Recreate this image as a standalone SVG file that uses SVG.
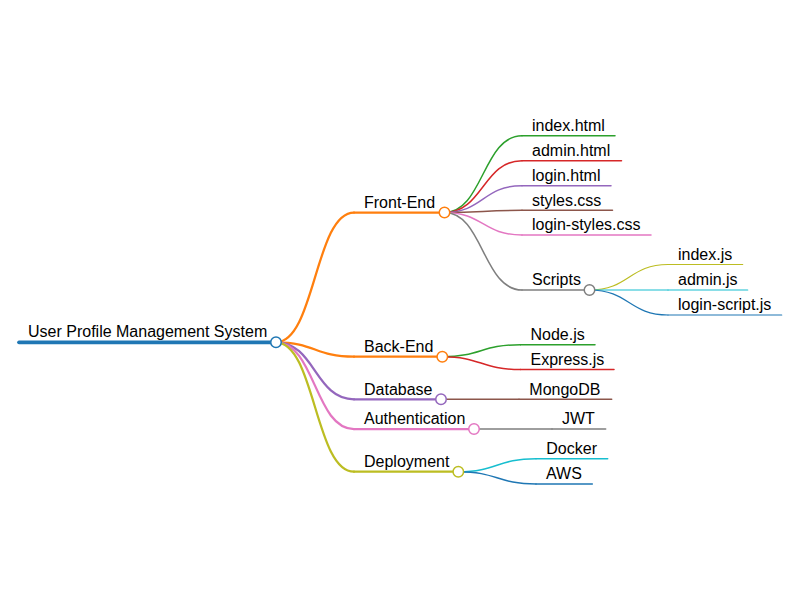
<svg xmlns="http://www.w3.org/2000/svg" width="800" height="600" viewBox="0 0 800 600">
<style>
text{font-family:"Liberation Sans",Arial,sans-serif;font-size:16px;fill:#000}
path,line{fill:none;stroke-linecap:round}
circle{fill:#fff;stroke-width:1.5}
.d0{stroke-width:3.75}
.d1{stroke-width:2.25}
.d2{stroke-width:1.5}
.d3{stroke-width:1.2}
.c0{stroke:#1f77b4}.c1{stroke:#ff7f0e}.c2{stroke:#2ca02c}.c3{stroke:#d62728}.c4{stroke:#9467bd}
.c5{stroke:#8c564b}.c6{stroke:#e377c2}.c7{stroke:#7f7f7f}.c8{stroke:#bcbd22}.c9{stroke:#17becf}
</style>
<rect width="800" height="600" fill="#fff"/>
<g id="connectors">
<path class="d1 c1" d="M276 342.3C315 342.3 315 212.5 354 212.5"/>
<path class="d1 c1" d="M276 342.3C315 342.3 315 356.7 354 356.7"/>
<path class="d1 c4" d="M276 342.3C315 342.3 315 399.3 354 399.3"/>
<path class="d1 c6" d="M276 342.3C315 342.3 315 429 354 429"/>
<path class="d1 c8" d="M276 342.3C315 342.3 315 471.7 354 471.7"/>
<path class="d2 c2" d="M444.5 212.5C483 212.5 483 135.7 522 135.7"/>
<path class="d2 c3" d="M444.5 212.5C483 212.5 483 160.7 522 160.7"/>
<path class="d2 c4" d="M444.5 212.5C483 212.5 483 185.7 522 185.7"/>
<path class="d2 c5" d="M444.5 212.5C483 212.5 483 210.3 522 210.3"/>
<path class="d2 c6" d="M444.5 212.5C483 212.5 483 235 522 235"/>
<path class="d2 c7" d="M444.5 212.5C483 212.5 483 290 522 290"/>
<path class="d3 c8" d="M589.5 290C629 290 629 264.5 668 264.5"/>
<path class="d3 c9" d="M589.5 290C629 290 629 290 668 290"/>
<path class="d3 c0" d="M589.5 290C629 290 629 315 668 315"/>
<path class="d2 c2" d="M442.3 356.7C481 356.7 481 344.7 520.5 344.7"/>
<path class="d2 c3" d="M442.3 356.7C481 356.7 481 369.5 520.5 369.5"/>
<path class="d2 c5" d="M441 399.3C480 399.3 480 399.3 519 399.3"/>
<path class="d2 c7" d="M474 429C513 429 513 429 552 429"/>
<path class="d2 c9" d="M458.3 471.7C497 471.7 497 458.7 536 458.7"/>
<path class="d2 c0" d="M458.3 471.7C497 471.7 497 484 536 484"/>
</g>
<g id="root">
<line class="d0 c0" x1="19" y1="342.3" x2="276" y2="342.3"/>
<circle class="c0" cx="276" cy="342.3" r="5.25"/>
<text x="28" y="337">User Profile Management System</text>
</g>
<g id="front-end">
<line class="d1 c1" x1="354" y1="212.5" x2="444.5" y2="212.5"/>
<circle class="c1" cx="444.5" cy="212.5" r="5.25"/>
<text x="364" y="208">Front-End</text>
</g>
<g id="index-html">
<line class="d2 c2" x1="522" y1="135.7" x2="615" y2="135.7"/>
<text x="532" y="131">index.html</text>
</g>
<g id="admin-html">
<line class="d2 c3" x1="522" y1="160.7" x2="621.5" y2="160.7"/>
<text x="532" y="156">admin.html</text>
</g>
<g id="login-html">
<line class="d2 c4" x1="522" y1="185.7" x2="611" y2="185.7"/>
<text x="532" y="181">login.html</text>
</g>
<g id="styles-css">
<line class="d2 c5" x1="522" y1="210.3" x2="612.5" y2="210.3"/>
<text x="532" y="205.5">styles.css</text>
</g>
<g id="login-styles-css">
<line class="d2 c6" x1="522" y1="235" x2="651" y2="235"/>
<text x="532" y="230.3">login-styles.css</text>
</g>
<g id="scripts">
<line class="d2 c7" x1="522" y1="290" x2="589.5" y2="290"/>
<circle class="c7" cx="589.5" cy="290" r="5.25"/>
<text x="532" y="285.3">Scripts</text>
</g>
<g id="index-js">
<line class="d3 c8" x1="668" y1="264.5" x2="742.7" y2="264.5"/>
<text x="678" y="259.8">index.js</text>
</g>
<g id="admin-js">
<line class="d3 c9" x1="668" y1="290" x2="747.7" y2="290"/>
<text x="678" y="285.3">admin.js</text>
</g>
<g id="login-script-js">
<line class="d3 c0" x1="668" y1="315" x2="781.7" y2="315"/>
<text x="678" y="310.3">login-script.js</text>
</g>
<g id="back-end">
<line class="d1 c1" x1="354" y1="356.7" x2="442.3" y2="356.7"/>
<circle class="c1" cx="442.3" cy="356.7" r="5.25"/>
<text x="364" y="352">Back-End</text>
</g>
<g id="node-js">
<line class="d2 c2" x1="520.5" y1="344.7" x2="595" y2="344.7"/>
<text x="530.5" y="340">Node.js</text>
</g>
<g id="express-js">
<line class="d2 c3" x1="520.5" y1="369.5" x2="614" y2="369.5"/>
<text x="530.5" y="364.8">Express.js</text>
</g>
<g id="database">
<line class="d1 c4" x1="354" y1="399.3" x2="441" y2="399.3"/>
<circle class="c4" cx="441" cy="399.3" r="5.25"/>
<text x="364" y="394.6">Database</text>
</g>
<g id="mongodb">
<line class="d2 c5" x1="519" y1="399.3" x2="611.7" y2="399.3"/>
<text x="529.3" y="394.6">MongoDB</text>
</g>
<g id="authentication">
<line class="d1 c6" x1="354" y1="429" x2="474" y2="429"/>
<circle class="c6" cx="474" cy="429" r="5.25"/>
<text x="364" y="424.3">Authentication</text>
</g>
<g id="jwt">
<line class="d2 c7" x1="552" y1="429" x2="605.7" y2="429"/>
<text x="562" y="424.3">JWT</text>
</g>
<g id="deployment">
<line class="d1 c8" x1="354" y1="471.7" x2="458.3" y2="471.7"/>
<circle class="c8" cx="458.3" cy="471.7" r="5.25"/>
<text x="364" y="467">Deployment</text>
</g>
<g id="docker">
<line class="d2 c9" x1="536" y1="458.7" x2="607.7" y2="458.7"/>
<text x="546.3" y="454">Docker</text>
</g>
<g id="aws">
<line class="d2 c0" x1="536" y1="484" x2="592.3" y2="484"/>
<text x="546" y="479.3">AWS</text>
</g>
</svg>
